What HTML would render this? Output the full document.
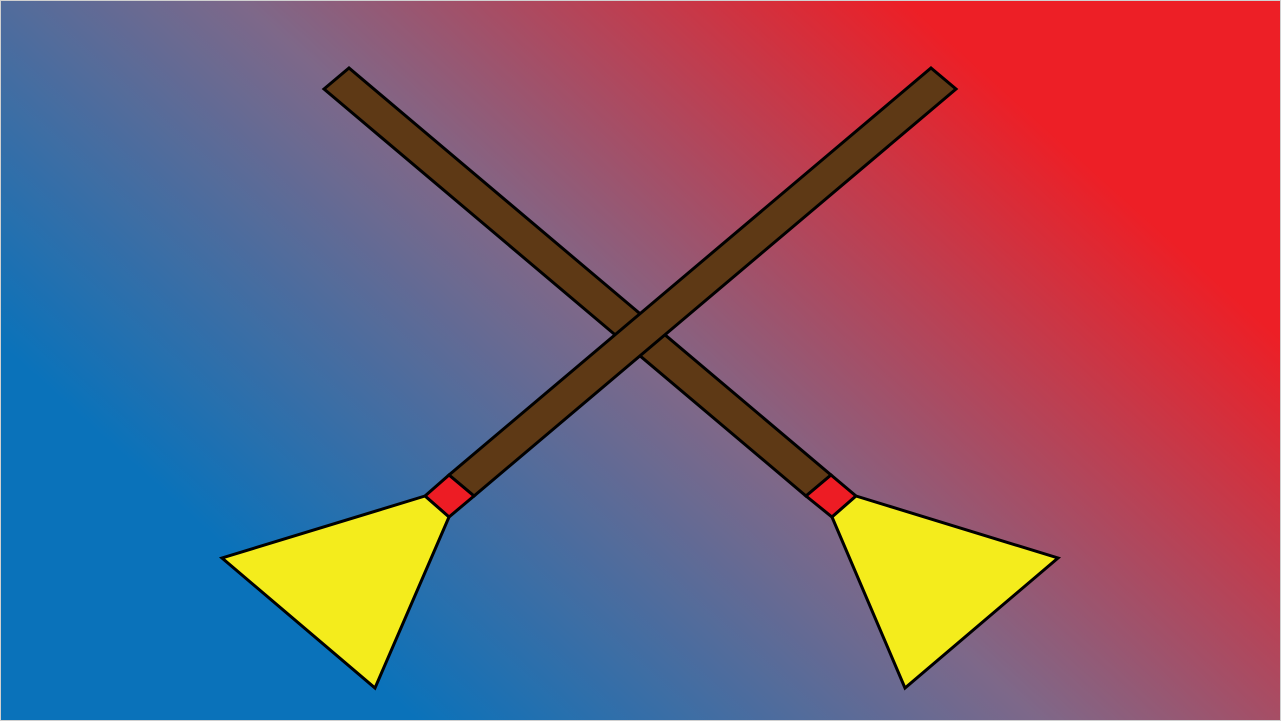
<!DOCTYPE html>
<html><head><meta charset="utf-8"><style>html,body{margin:0;padding:0;overflow:hidden}
#bgdiv{position:absolute;left:0;top:0;width:1281px;height:721px;background:linear-gradient(42deg,#0a72ba 0%,#0a72ba 20%,#7e6889 50%,#ed1f26 82%,#ed1f26 100%);box-sizing:border-box;border:1px solid #d0d0d0}
svg{position:absolute;left:0;top:0;display:block}</style></head>
<body>
<div id="bgdiv"></div>
<svg width="1281" height="721" viewBox="0 0 1281 721">
<g stroke="#000" stroke-width="3" stroke-linejoin="miter">
<polygon points="324,89 349,68 831,475 806,496" fill="#5e3915"/>
<polygon points="806,496 831,475 856,496 832,517" fill="#ed1c24"/>
<polygon points="832,517 856,496 1058,558 905,688" fill="#f4ec1c"/>
</g>
<g stroke="#000" stroke-width="3" stroke-linejoin="miter">
<polygon points="931,68 956,89 474,496 449,475" fill="#5e3915"/>
<polygon points="425,496 449,475 474,496 449,517" fill="#ed1c24"/>
<polygon points="425,496 449,517 375,688 222,558" fill="#f4ec1c"/>
</g>
</svg>
</body></html>
